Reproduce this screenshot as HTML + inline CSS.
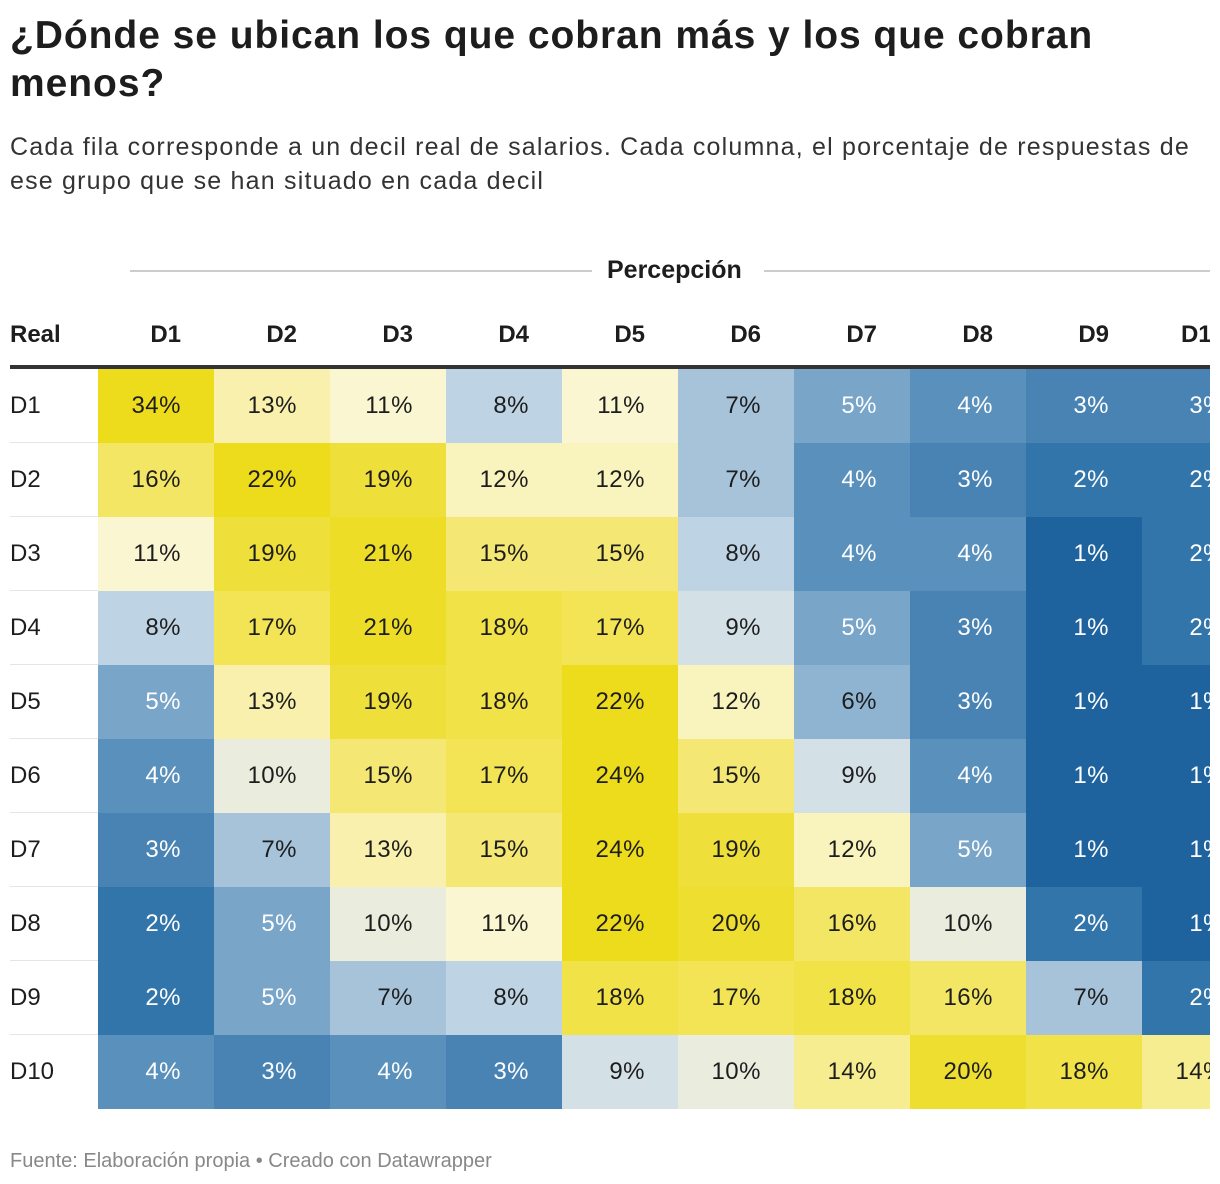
<!DOCTYPE html>
<html><head><meta charset="utf-8">
<style>
body{margin:0;width:1220px;height:1184px;overflow:hidden;background:#fff;font-family:"Liberation Sans",sans-serif;color:#1d1d1d;position:relative}
#clip{position:absolute;left:0;top:0;width:1210px;height:1184px;overflow:hidden}
.t{position:absolute;left:10px;top:12px;font-size:39px;font-weight:bold;line-height:48px;width:1150px;letter-spacing:0.95px}
.s{position:absolute;left:10px;top:130px;font-size:25px;line-height:34px;width:1200px;color:#333;letter-spacing:1.2px}
.cell{position:absolute;width:116px;height:74px;line-height:74px;font-size:24px;text-align:right;box-sizing:border-box;padding-right:33px;letter-spacing:0.5px}
.hd{position:absolute;font-size:24px;font-weight:bold;top:321px}
.rl{position:absolute;left:10px;width:88px;font-size:24px;line-height:74px;height:74px;border-bottom:1px solid #e5e5e5;box-sizing:border-box}
.f{position:absolute;left:10px;top:1150px;font-size:20px;color:#888}
</style></head><body>
<div id="clip">
<div class="t">¿Dónde se ubican los que cobran más y los que cobran menos?</div>
<div class="s">Cada fila corresponde a un decil real de salarios. Cada columna, el porcentaje de respuestas de ese grupo que se han situado en cada decil</div>
<div style="position:absolute;left:130px;top:270px;width:462px;height:2px;background:#ccc"></div>
<div style="position:absolute;left:607px;top:256px;font-size:25px;font-weight:bold">Percepción</div>
<div style="position:absolute;left:764px;top:270px;width:456px;height:2px;background:#ccc"></div>
<div class="hd" style="left:10px">Real</div>
<div style="position:absolute;left:10px;top:365px;width:1210px;height:4px;background:#333"></div>
<div id="grid"></div>
<div class="f">Fuente: Elaboración propia • Creado con Datawrapper</div>
</div>
<script>
const rows=["D1","D2","D3","D4","D5","D6","D7","D8","D9","D10"];
const cols=["D1","D2","D3","D4","D5","D6","D7","D8","D9","D10"];
const r1=[34,13,11,8,11,7,5,4,3,3];
const r2=[16,22,19,12,12,7,4,3,2,2];
const r3=[11,19,21,15,15,8,4,4,1,2];
const r4=[8,17,21,18,17,9,5,3,1,2];
const r5=[5,13,19,18,22,12,6,3,1,1];
const r6=[4,10,15,17,24,15,9,4,1,1];
const r7=[3,7,13,15,24,19,12,5,1,1];
const r8=[2,5,10,11,22,20,16,10,2,1];
const r9=[2,5,7,8,18,17,18,16,7,2];
const r10=[4,3,4,3,9,10,14,20,18,14];
const values=[r1,r2,r3,r4,r5,r6,r7,r8,r9,r10];
const stops=[[1,[31,99,158]],[2,[50,117,170]],[3,[72,131,180]],[4,[90,145,188]],[5,[120,165,200]],[7,[166,195,218]],[8,[190,211,227]],[9,[211,224,230]],[10,[234,237,222]],[11,[250,246,210]],[12,[249,243,190]],[13,[248,240,172]],[15,[244,231,116]],[17,[242,228,85]],[19,[239,223,58]],[22,[237,220,28]],[40,[237,220,26]]];
function color(v){for(let i=0;i<stops.length-1;i++){const a=stops[i],b=stops[i+1];if(v<=b[0]){const t=Math.max(0,(v-a[0])/(b[0]-a[0]));return 'rgb('+a[1].map((c,k)=>Math.round(c+(b[1][k]-c)*t)).join(',')+')';}}return 'rgb(237,220,26)';}
const xs=c=>98+c*116, ys=r=>369+r*74;
const g=document.getElementById('grid');
cols.forEach((c,j)=>{const d=document.createElement('div');d.className='hd';d.style.left=(xs(j))+'px';d.style.width='83px';d.style.textAlign='right';d.textContent=c;


g.appendChild(d);});
rows.forEach((r,i)=>{const l=document.createElement('div');l.className='rl';l.style.top=ys(i)+'px';l.textContent=r;
if(i===rows.length-1)l.style.borderBottom='none';


g.appendChild(l);
values[i].forEach((v,j)=>{const c=document.createElement('div');c.className='cell';c.style.left=xs(j)+'px';c.style.top=ys(i)+'px';c.style.background=color(v);c.style.color=v<=5?'#fff':'#1d1d1d';c.textContent=v+'%';


g.appendChild(c);});});
</script>
</body></html>
